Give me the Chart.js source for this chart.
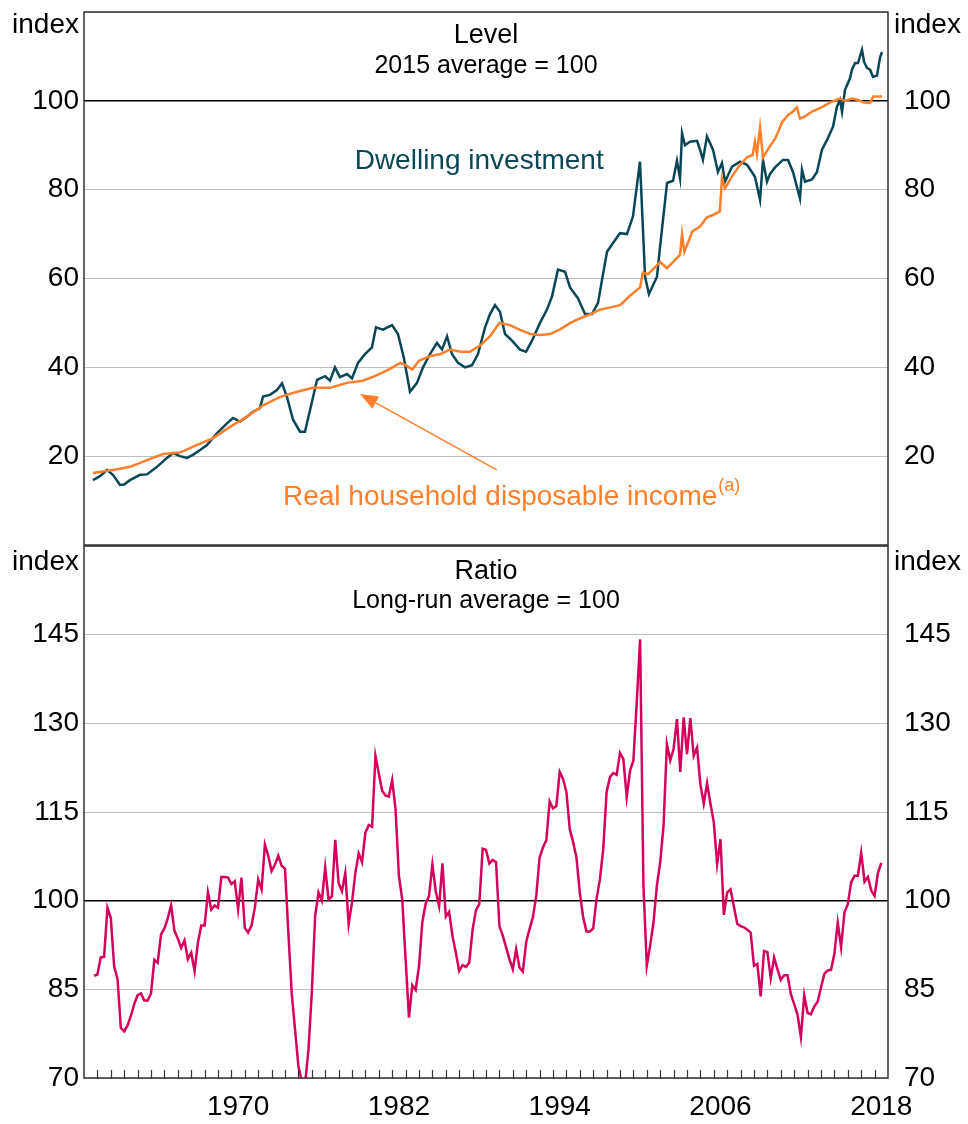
<!DOCTYPE html>
<html>
<head>
<meta charset="utf-8">
<script src="https://cdn.jsdelivr.net/npm/chart.js@4.4.0/dist/chart.umd.min.js"></script>
<style>
  body { margin: 0; background: #fff; }
  #wrap { position: relative; width: 968px; height: 1124px; }
  #topChart { position: absolute; left: 0; top: 0; }
  #bottomChart { position: absolute; left: 0; top: 540px; }
</style>
</head>
<body>
<div id="wrap">
  <canvas id="topChart" width="968" height="550"></canvas>
  <canvas id="bottomChart" width="968" height="584"></canvas>
</div>
<script>
// Level panel: [year, index]
const dwellingPoints = [
  [1959.67,14.6],[1960.19,15.5],[1960.72,16.9],[1961.16,15.8],[1961.69,13.5],[1961.99,13.6],[1962.43,14.6],
  [1963.18,15.8],[1963.70,15.9],[1964.45,17.6],[1965.19,19.6],[1965.64,20.7],[1966.16,20.0],[1966.69,19.6],
  [1967.13,20.3],[1967.66,21.4],[1968.18,22.5],[1968.93,25.2],[1969.67,27.4],[1970.12,28.6],[1970.64,27.8],
  [1971.16,28.9],[1971.61,30.0],[1972.13,30.8],[1972.36,33.4],[1972.88,33.8],[1973.40,34.9],[1973.78,36.4],
  [1974.15,33.3],[1974.60,28.2],[1975.12,25.5],[1975.49,25.5],[1975.87,30.4],[1976.39,37.2],[1976.99,38.0],
  [1977.36,37.0],[1977.73,40.0],[1978.10,37.8],[1978.63,38.5],[1979.00,37.5],[1979.45,41.0],[1979.97,43.0],
  [1980.49,44.5],[1980.79,49.0],[1981.31,48.5],[1981.99,49.5],[1982.43,47.5],[1982.88,42.0],[1983.33,34.5],
  [1983.85,36.5],[1984.30,40.0],[1984.82,43.0],[1985.34,45.5],[1985.72,44.0],[1986.09,47.0],[1986.46,43.0],
  [1986.91,41.0],[1987.43,40.0],[1987.96,40.5],[1988.40,43.0],[1988.93,49.0],[1989.30,52.0],[1989.67,54.0],
  [1990.04,52.5],[1990.42,47.5],[1990.94,46.0],[1991.54,44.0],[1991.99,43.5],[1992.43,46.0],[1993.03,50.0],
  [1993.55,53.0],[1993.93,56.0],[1994.37,62.0],[1994.90,61.5],[1995.27,58.0],[1995.87,55.5],[1996.39,52.0],
  [1996.91,52.0],[1997.36,54.5],[1997.66,59.7],[1998.03,66.0],[1998.48,68.0],[1999.00,70.2],[1999.52,70.0],
  [1999.97,74.0],[2000.49,86.3],[2000.87,60.4],[2001.16,56.5],[2001.76,60.4],[2001.99,67.2],[2002.51,81.5],
  [2002.96,82.0],[2003.25,86.5],[2003.48,82.6],[2003.63,92.7],[2003.85,90.0],[2004.22,90.8],[2004.75,91.0],
  [2004.97,89.0],[2005.19,86.7],[2005.49,92.0],[2005.94,89.0],[2006.31,84.0],[2006.61,86.0],[2006.84,81.8],
  [2007.36,85.2],[2007.96,86.3],[2008.48,85.6],[2009.07,82.9],[2009.45,77.7],[2009.67,86.7],[2009.97,81.8],
  [2010.19,83.5],[2010.57,85.0],[2011.16,86.7],[2011.54,86.7],[2011.91,84.0],[2012.43,78.0],[2012.58,84.5],
  [2012.81,81.8],[2013.33,82.3],[2013.70,84.0],[2014.07,89.0],[2014.45,91.2],[2014.90,94.2],[2015.19,98.7],
  [2015.42,100.2],[2015.57,97.5],[2015.79,102.5],[2016.16,105.0],[2016.31,107.0],[2016.54,108.5],
  [2016.76,108.5],[2017.06,111.5],[2017.21,108.8],[2017.43,107.4],[2017.66,107.0],[2017.88,105.4],
  [2018.18,105.7],[2018.40,109.7],[2018.55,111.0]
];

const incomePoints = [
  [1959.67,16.2],[1961.16,16.9],[1962.43,17.6],[1963.70,19.1],[1964.90,20.5],[1966.16,20.8],[1967.40,22.5],
  [1968.60,24.0],[1969.90,26.6],[1971.16,28.9],[1972.40,31.5],[1973.60,33.3],[1974.90,34.5],[1976.10,35.4],
  [1977.40,35.4],[1978.60,36.5],[1979.80,37.0],[1980.70,38.0],[1981.80,39.6],[1982.60,41.0],[1983.00,40.5],
  [1983.50,39.5],[1984.00,41.5],[1984.80,42.5],[1985.60,43.0],[1986.30,44.0],[1987.10,43.5],[1987.80,43.5],
  [1988.60,45.0],[1989.30,47.0],[1990.00,50.0],[1990.80,49.5],[1991.50,48.5],[1992.30,47.5],[1993.00,47.3],
  [1993.80,47.5],[1994.50,48.5],[1995.30,50.0],[1996.00,51.0],[1996.80,52.0],[1997.50,53.0],[1998.30,53.5],
  [1999.00,54.0],[1999.70,56.0],[2000.50,58.0],[2000.70,61.3],[2001.10,61.0],[2002.00,63.7],[2002.50,62.3],
  [2003.48,65.3],[2003.63,70.0],[2003.80,66.0],[2004.40,70.6],[2004.97,71.7],[2005.49,73.8],[2005.94,74.3],
  [2006.45,75.1],[2006.61,82.6],[2006.84,80.3],[2007.36,83.0],[2007.96,85.6],[2008.48,87.3],[2008.90,87.8],
  [2009.07,90.8],[2009.22,88.0],[2009.45,94.0],[2009.67,87.2],[2010.19,89.8],[2010.60,91.6],[2011.10,95.2],
  [2011.54,96.8],[2011.91,97.6],[2012.20,98.5],[2012.43,96.0],[2012.81,96.5],[2013.33,97.6],[2014.07,98.6],
  [2014.80,99.8],[2015.42,100.5],[2015.79,100.0],[2016.31,100.5],[2016.76,100.2],[2017.21,99.6],
  [2017.66,99.5],[2017.90,101.0],[2018.55,101.0]
];

// Ratio panel: quarterly, starting Sep quarter 1959
const ratioStart = 1959.75;
const ratioValues = [
  87.3, 87.5, 90.4, 90.5, 98.8, 97.1, 88.9, 86.8, 78.5, 77.9,
  78.9, 80.5, 82.5, 84.0, 84.3, 83.1, 83.1, 84.3, 90.0, 89.5,
  94.3, 95.3, 97.0, 99.2, 94.9, 93.6, 92.0, 93.3, 90.1, 91.2,
  88.1, 92.9, 95.8, 95.8, 101.4, 98.5, 99.2, 98.8, 104.0, 104.0,
  103.9, 102.8, 103.3, 98.5, 103.9, 95.4, 94.6, 95.8, 98.8, 103.6,
  101.9, 109.5, 107.6, 105.0, 106.1, 107.6, 105.9, 105.4, 94.6, 84.4,
  78.2, 72.0, 69.5, 69.0, 74.8, 84.4, 97.4, 101.4, 100.0, 105.6,
  100.2, 100.7, 110.3, 103.0, 101.6, 104.7, 96.0, 99.7, 104.7, 108.0,
  106.5, 111.5, 112.8, 112.5, 124.5, 121.5, 118.6, 117.8, 117.6, 120.4,
  115.5, 104.2, 100.2, 90.1, 80.2, 85.7, 84.9, 88.9, 96.4, 99.5,
  100.8, 106.1, 101.6, 99.1, 106.3, 97.3, 98.1, 94.0, 91.2, 88.1,
  89.1, 88.8, 89.5, 95.1, 98.4, 99.4, 108.8, 108.6, 106.3, 106.9,
  106.5, 95.7, 94.1, 92.1, 90.1, 88.4, 91.8, 88.7, 88.0, 93.0,
  95.2, 97.2, 100.8, 107.3, 109.0, 110.2, 116.8, 115.6, 116.0, 121.8,
  120.6, 118.4, 112.1, 109.9, 107.3, 101.4, 97.2, 94.8, 94.8, 95.3,
  100.3, 103.6, 108.7, 118.4, 120.9, 121.6, 121.3, 125.0, 124.0, 117.5,
  122.0, 123.7, 133.6, 144.2, 102.5, 89.0, 92.4, 96.3, 102.5, 106.5,
  112.7, 126.5, 123.7, 125.7, 130.7, 121.8, 131.0, 124.8, 130.9, 124.5,
  125.9, 119.7, 116.4, 119.9, 116.4, 113.3, 106.2, 110.4, 97.6, 101.4,
  101.9, 99.0, 96.1, 95.7, 95.5, 95.1, 94.6, 89.0, 89.3, 83.8,
  91.5, 91.3, 86.9, 90.4, 88.4, 86.6, 87.4, 87.4, 84.2, 82.5,
  80.7, 76.9, 84.0, 81.0, 80.8, 82.1, 82.9, 85.3, 87.6, 88.2,
  88.3, 91.0, 96.3, 92.1, 98.0, 99.4, 103.1, 104.2, 104.2, 108.1,
  103.2, 104.0, 101.7, 100.8, 104.7, 106.4
];

const yearLabels = [1970, 1982, 1994, 2006, 2018];

const TEAL = '#0b4656';
const ORANGE = '#ff7f2a';
const PINK = '#d5005c';
const FONT = '"Liberation Sans", Arial, sans-serif';

function gridColor(c) {
  return c.tick.value === 100 ? '#000' : '#bfbfbf';
}

// drop the space Chart.js reserves for labels overhanging the plot
function noOverhang(s) {
  s.paddingTop = 0;
  s.paddingBottom = 0;
}

function leftAxis(min, max, step, hide) {
  return {
    position: 'left', min: min, max: max,
    ticks: { stepSize: step, color: '#000', padding: 5, font: { family: FONT, size: 28 },
      callback: v => hide.includes(v) ? '' : v },
    grid: { drawTicks: false, color: gridColor, lineWidth: c => c.tick.value === 100 ? 1.5 : 1 },
    border: { display: false },
    afterFit: s => { s.width = 84; noOverhang(s); }
  };
}

function rightAxis(min, max, step, hide) {
  return {
    position: 'right', min: min, max: max,
    ticks: { stepSize: step, color: '#000', padding: 8, font: { family: FONT, size: 28 },
      callback: v => hide.includes(v) ? '' : v },
    grid: { display: false },
    border: { display: false },
    afterFit: s => { s.width = 80; noOverhang(s); }
  };
}

function drawFrame(chart) {
  const ctx = chart.ctx, a = chart.chartArea;
  ctx.save();
  ctx.strokeStyle = '#333';
  ctx.lineWidth = 1.5;
  ctx.strokeRect(a.left, a.top, a.right - a.left, a.bottom - a.top);
  ctx.restore();
}

function drawIndex(chart, y) {
  const ctx = chart.ctx, a = chart.chartArea;
  ctx.save();
  ctx.font = '28px ' + FONT;
  ctx.fillStyle = '#000';
  ctx.textBaseline = 'middle';
  ctx.textAlign = 'right';
  ctx.fillText('index', a.left - 5, y);
  ctx.textAlign = 'left';
  ctx.fillText('index', a.right + 6, y);
  ctx.restore();
}

function drawTitle(chart, title, sub, y1, y2) {
  const ctx = chart.ctx, a = chart.chartArea;
  const cx = (a.left + a.right) / 2;
  ctx.save();
  ctx.fillStyle = '#000';
  ctx.textAlign = 'center';
  ctx.textBaseline = 'middle';
  ctx.font = '27px ' + FONT;
  ctx.fillText(title, cx, y1);
  ctx.font = '25px ' + FONT;
  ctx.fillText(sub, cx, y2);
  ctx.restore();
}

const levelPlugin = {
  id: 'levelDecor',
  afterDatasetsDraw(chart) {
    const ctx = chart.ctx;
    const xs = chart.scales.x, ys = chart.scales.y;
    drawFrame(chart);
    drawIndex(chart, 25);
    drawTitle(chart, 'Level', '2015 average = 100', 36, 66);

    ctx.save();
    ctx.textBaseline = 'middle';
    ctx.textAlign = 'left';
    ctx.font = '28px ' + FONT;
    ctx.fillStyle = TEAL;
    ctx.fillText('Dwelling investment', xs.getPixelForValue(1979.2), ys.getPixelForValue(86.3));

    const lx = xs.getPixelForValue(1973.85), ly = ys.getPixelForValue(10.7);
    ctx.fillStyle = ORANGE;
    const txt = 'Real household disposable income';
    ctx.fillText(txt, lx, ly);
    const w = ctx.measureText(txt).width;
    ctx.font = '18px ' + FONT;
    ctx.fillText('(a)', lx + w + 1, ly - 11);

    // arrow pointing at the income line
    const x0 = xs.getPixelForValue(1989.8), y0 = ys.getPixelForValue(16.9);
    const x1 = xs.getPixelForValue(1979.6), y1 = ys.getPixelForValue(34.0);
    const ang = Math.atan2(y1 - y0, x1 - x0);
    ctx.strokeStyle = ORANGE;
    ctx.lineWidth = 1.5;
    ctx.beginPath();
    ctx.moveTo(x0, y0);
    ctx.lineTo(x1 - 14 * Math.cos(ang), y1 - 14 * Math.sin(ang));
    ctx.stroke();
    ctx.beginPath();
    ctx.moveTo(x1, y1);
    ctx.lineTo(x1 - 18 * Math.cos(ang) + 7 * Math.sin(ang), y1 - 18 * Math.sin(ang) - 7 * Math.cos(ang));
    ctx.lineTo(x1 - 18 * Math.cos(ang) - 7 * Math.sin(ang), y1 - 18 * Math.sin(ang) + 7 * Math.cos(ang));
    ctx.closePath();
    ctx.fill();
    ctx.restore();
  }
};

const ratioPlugin = {
  id: 'ratioDecor',
  afterDatasetsDraw(chart) {
    const ctx = chart.ctx, a = chart.chartArea, xs = chart.scales.x;
    drawFrame(chart);
    drawIndex(chart, 22);
    drawTitle(chart, 'Ratio', 'Long-run average = 100', 32, 61);
    // yearly tick marks pointing up into the panel
    ctx.save();
    ctx.strokeStyle = '#333';
    ctx.lineWidth = 1.2;
    for (let yr = 1960; yr < 2019; yr++) {
      const x = Math.round(xs.getPixelForValue(yr)) + 0.5;
      ctx.beginPath();
      ctx.moveTo(x, a.bottom);
      ctx.lineTo(x, a.bottom - 8);
      ctx.stroke();
    }
    ctx.restore();
  }
};

const lineStyle = { borderWidth: 2.5, pointRadius: 0, tension: 0, fill: false };

new Chart(document.getElementById('topChart'), {
  type: 'line',
  data: {
    datasets: [
      Object.assign({ label: 'Real household disposable income', borderColor: ORANGE,
        data: incomePoints.map(p => ({ x: p[0], y: p[1] })) }, lineStyle),
      Object.assign({ label: 'Dwelling investment', borderColor: TEAL,
        data: dwellingPoints.map(p => ({ x: p[0], y: p[1] })) }, lineStyle)
    ]
  },
  options: {
    responsive: false,
    animation: false,
    layout: { padding: { top: 12, bottom: 5 } },
    plugins: { legend: { display: false }, tooltip: { enabled: false } },
    scales: {
      x: { type: 'linear', min: 1959, max: 2019, display: false },
      y: leftAxis(0, 120, 20, [0, 120]),
      yR: rightAxis(0, 120, 20, [0, 120])
    }
  },
  plugins: [levelPlugin]
});

new Chart(document.getElementById('bottomChart'), {
  type: 'line',
  data: {
    datasets: [
      Object.assign({ label: 'Ratio', borderColor: PINK,
        data: ratioValues.map((v, i) => ({ x: ratioStart + i * 0.25, y: v })) }, lineStyle)
    ]
  },
  options: {
    responsive: false,
    animation: false,
    layout: { padding: { top: 6 } },
    plugins: { legend: { display: false }, tooltip: { enabled: false } },
    scales: {
      x: {
        type: 'linear', min: 1959, max: 2019,
        afterBuildTicks: s => { s.ticks = yearLabels.map(v => ({ value: v + 0.5 })); },
        ticks: { autoSkip: false, maxRotation: 0, color: '#000', padding: 4,
          font: { family: FONT, size: 28 }, callback: v => Math.floor(v) },
        grid: { display: false },
        border: { display: false },
        afterFit: s => { s.height = 46; s.paddingLeft = 0; s.paddingRight = 0; }
      },
      y: leftAxis(70, 160, 15, [160]),
      yR: rightAxis(70, 160, 15, [160])
    }
  },
  plugins: [ratioPlugin]
});
</script>
</body>
</html>
